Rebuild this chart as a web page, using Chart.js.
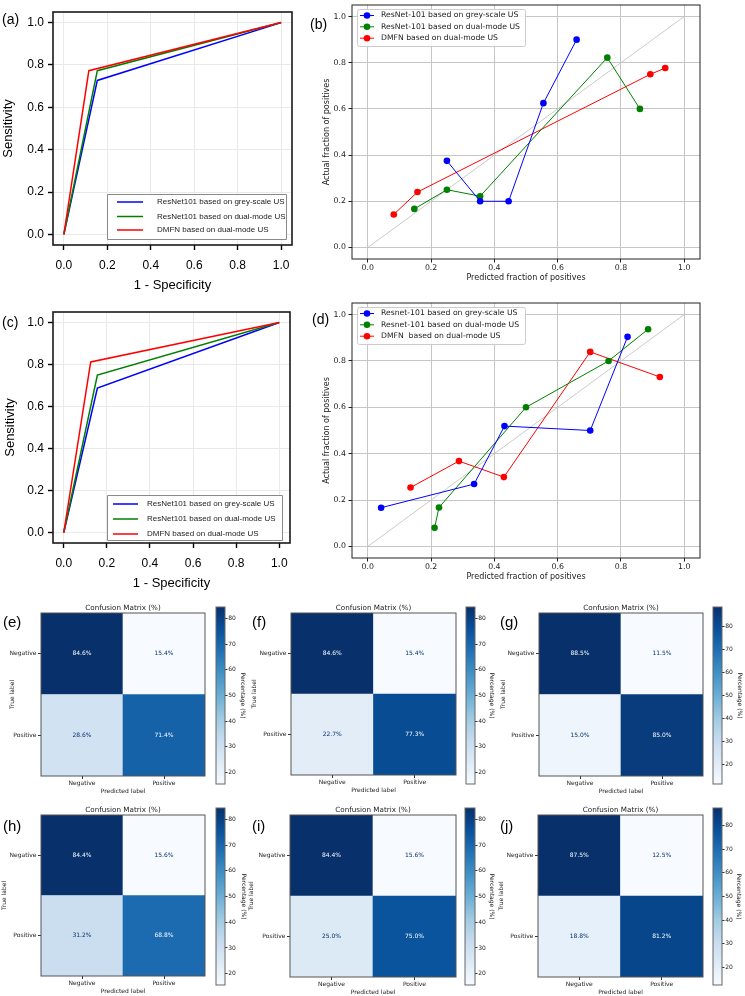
<!DOCTYPE html>
<html>
<head>
<meta charset="utf-8">
<title>ROC, calibration and confusion matrices</title>
<script src="https://cdn.jsdelivr.net/npm/chart.js@4.4.1/dist/chart.umd.min.js"></script>
<style>
  body { margin: 0; background: #fff; }
  #fig { position: relative; width: 745px; height: 996px; overflow: hidden; background: #fff; }
  #fig canvas { position: absolute; }
  .tag { position: absolute; font-family: "Liberation Sans", Arial, sans-serif; line-height: 1; color: #000; white-space: nowrap; }
</style>
</head>
<body>
<div id="fig"></div>
<script>
// ---------- values ----------
const axisTicks = [0, 0.2, 0.4, 0.6, 0.8, 1.0];
const cbarTicks = [20, 30, 40, 50, 60, 70, 80];
const cmLabels = ['Negative', 'Positive'];

const rocLabels = ['ResNet101 based on grey-scale US', 'ResNet101 based on dual-mode US', 'DMFN based on dual-mode US'];
const calLabelsB = ['ResNet-101 based on grey-scale US', 'ResNet-101 based on dual-mode US', 'DMFN based on dual-mode US'];
const calLabelsD = ['Resnet-101 based on grey-scale US', 'Resnet-101 based on dual-mode US', 'DMFN  based on dual-mode US'];

// ROC curves: [1 - specificity, sensitivity]
const rocA_grey = [[0, 0], [0.154, 0.727], [1, 1]];
const rocA_dual = [[0, 0], [0.154, 0.773], [1, 1]];
const rocA_dmfn = [[0, 0], [0.115, 0.773], [1, 1]];
const rocC_grey = [[0, 0], [0.156, 0.688], [1, 1]];
const rocC_dual = [[0, 0], [0.156, 0.75], [1, 1]];
const rocC_dmfn = [[0, 0], [0.125, 0.812], [1, 1]];

// calibration curves: [predicted fraction, actual fraction]
const calB_grey = [[0.25, 0.375], [0.355, 0.2], [0.445, 0.2], [0.555, 0.625], [0.66, 0.9]];
const calB_dual = [[0.147, 0.167], [0.25, 0.25], [0.355, 0.222], [0.757, 0.822], [0.86, 0.6]];
const calB_dmfn = [[0.082, 0.143], [0.157, 0.24], [0.893, 0.75], [0.94, 0.777]];
const calD_grey = [[0.042, 0.167], [0.336, 0.269], [0.432, 0.519], [0.703, 0.5], [0.821, 0.904]];
const calD_dual = [[0.211, 0.08], [0.225, 0.168], [0.5, 0.6], [0.761, 0.8], [0.886, 0.937]];
const calD_dmfn = [[0.135, 0.254], [0.288, 0.368], [0.43, 0.299], [0.703, 0.839], [0.923, 0.731]];
const diagonal = [[0, 0], [1, 1]];

// confusion matrices (%), rows: true Negative, true Positive
const cmE = [[84.6, 15.4], [28.6, 71.4]];
const cmF = [[84.6, 15.4], [22.7, 77.3]];
const cmG = [[88.5, 11.5], [15.0, 85.0]];
const cmH = [[84.4, 15.6], [31.2, 68.8]];
const cmI = [[84.4, 15.6], [25.0, 75.0]];
const cmJ = [[87.5, 12.5], [18.8, 81.2]];

// ---------- styling ----------
const FONT_ROC = '"Liberation Sans", Arial, sans-serif';
const FONT_MPL = '"DejaVu Sans", sans-serif';
const lineColors = ['#0000ff', '#008000', '#ff0000'];
const bluesStops = ['#f7fbff', '#deebf7', '#c6dbef', '#9ecae1', '#6baed6', '#4292c6', '#2171b5', '#08519c', '#08306b'];

Chart.defaults.font.family = FONT_MPL;
Chart.defaults.color = '#222';

const fig = document.getElementById('fig');

function blues(t) {
  t = Math.max(0, Math.min(1, t));
  const p = t * 8, i = Math.min(7, Math.floor(p)), f = p - i;
  const a = bluesStops[i], b = bluesStops[i + 1];
  const ch = (s, k) => parseInt(s.substr(1 + 2 * k, 2), 16);
  const rgb = [0, 1, 2].map(k => Math.round(ch(a, k) + (ch(b, k) - ch(a, k)) * f));
  return `rgb(${rgb.join(',')})`;
}

const xy = pts => pts.map(p => ({ x: p[0], y: p[1] }));

function fixSize(px) {
  return s => {
    if (s.isHorizontal()) s.height = px; else s.width = px;
    s.paddingLeft = s.paddingRight = s.paddingTop = s.paddingBottom = 0;
  };
}

function fixedTicks(values) {
  return s => { s.ticks = values.map(v => ({ value: v })); };
}

function makeCanvas(area, ax, pad) {
  const L = area[0] - (ax.l || 0) - pad.left;
  const T = area[1] - (ax.t || 0) - pad.top;
  const R = area[2] + (ax.r || 0) + pad.right;
  const B = area[3] + (ax.b || 0) + pad.bottom;
  const c = document.createElement('canvas');
  c.width = R - L; c.height = B - T;
  c.style.left = L + 'px'; c.style.top = T + 'px';
  c.style.width = (R - L) + 'px'; c.style.height = (B - T) + 'px';
  fig.appendChild(c);
  return c;
}

// ---------- plugins ----------
const framePlugin = {
  id: 'frame',
  afterDatasetsDraw(chart, args, o) {
    if (!o.color) return;
    const { ctx, chartArea: a } = chart;
    ctx.save();
    ctx.strokeStyle = o.color;
    ctx.lineWidth = o.width;
    ctx.strokeRect(a.left, a.top, a.right - a.left, a.bottom - a.top);
    ctx.restore();
  }
};

const boxLegendPlugin = {
  id: 'boxLegend',
  afterDraw(chart, args, o) {
    if (!o.box) return;
    const { ctx, chartArea: a } = chart;
    const [bx, by, bw, bh] = o.box;
    const x0 = a.left + bx, y0 = a.top + by;
    ctx.save();
    ctx.beginPath();
    ctx.roundRect(x0 + 0.5, y0 + 0.5, bw, bh, o.radius);
    ctx.fillStyle = o.fill;
    ctx.fill();
    ctx.strokeStyle = o.edge;
    ctx.lineWidth = 1;
    ctx.stroke();
    ctx.font = o.font;
    ctx.textBaseline = 'middle';
    chart.data.datasets.filter(d => d.label).forEach((d, i) => {
      const y = y0 + o.rows[i];
      ctx.strokeStyle = d.borderColor;
      ctx.lineWidth = o.lineWidth;
      ctx.beginPath();
      ctx.moveTo(x0 + o.line[0], y);
      ctx.lineTo(x0 + o.line[1], y);
      ctx.stroke();
      if (o.marker) {
        ctx.fillStyle = d.borderColor;
        ctx.beginPath();
        ctx.arc(x0 + (o.line[0] + o.line[1]) / 2, y, o.marker, 0, Math.PI * 2);
        ctx.fill();
      }
      ctx.fillStyle = o.color;
      ctx.fillText(d.label, x0 + o.text, y);
    });
    ctx.restore();
  }
};

const cellTextPlugin = {
  id: 'cellText',
  afterDatasetsDraw(chart, args, o) {
    if (!o.font) return;
    const ctx = chart.ctx;
    ctx.save();
    ctx.font = o.font;
    ctx.textAlign = 'center';
    ctx.textBaseline = 'middle';
    chart.data.datasets.forEach((d, i) => {
      chart.getDatasetMeta(i).data.forEach((el, j) => {
        const p = el.getCenterPoint();
        ctx.fillStyle = d.textColor[j];
        ctx.fillText(d.values[j].toFixed(1) + '%', p.x, p.y);
      });
    });
    ctx.restore();
  }
};

Chart.register(framePlugin, boxLegendPlugin, cellTextPlugin);

const baseOptions = {
  responsive: false,
  maintainAspectRatio: false,
  animation: false,
  events: []
};

// ---------- ROC panels ----------
function rocChart(area, series, legendBox, yTitlePad) {
  const pad = { left: 0, top: 12, right: 8, bottom: 0 };
  const canvas = makeCanvas(area, { l: 53, b: 48 }, pad);
  const axis = (title, isX) => ({
    type: 'linear', min: -0.05, max: 1.05,
    afterBuildTicks: fixedTicks(axisTicks),
    afterFit: fixSize(isX ? 48 : 53),
    border: { display: false },
    grid: { color: '#e9e9e9', lineWidth: 1, tickColor: '#000', tickWidth: 1.4, tickLength: 5 },
    ticks: {
      color: '#000', font: { family: FONT_ROC, size: 12 }, padding: isX ? 8 : 4,
      maxRotation: 0, autoSkip: false, callback: v => v.toFixed(1)
    },
    title: {
      display: true, text: title, color: '#000', font: { family: FONT_ROC, size: 13 },
      padding: isX ? { top: 0, bottom: 0 } : { top: yTitlePad, bottom: 0 }
    }
  });
  new Chart(canvas, {
    type: 'scatter',
    data: {
      datasets: series.map((pts, k) => ({
        label: rocLabels[k], data: xy(pts), showLine: true,
        borderColor: lineColors[k], borderWidth: 1.5, pointRadius: 0, order: 2 - k
      }))
    },
    options: {
      ...baseOptions,
      layout: { padding: pad },
      scales: { x: axis('1 - Specificity', true), y: axis('Sensitivity', false) },
      plugins: {
        legend: { display: false }, tooltip: { enabled: false },
        frame: { color: '#1a1a1a', width: 1.6 },
        boxLegend: {
          box: legendBox.box, rows: legendBox.rows, line: legendBox.line, text: legendBox.text,
          radius: 0, fill: '#fff', edge: '#8a8a8a', lineWidth: 1.5, marker: 0,
          font: '8px ' + FONT_ROC, color: '#222'
        }
      }
    }
  });
}

rocChart([53, 12, 292, 245], [rocA_grey, rocA_dual, rocA_dmfn],
  { box: [54, 182, 179, 45], rows: [8, 22.5, 36], line: [10, 36], text: 50 }, 1);
rocChart([53, 312, 290, 543], [rocC_grey, rocC_dual, rocC_dmfn],
  { box: [54, 183, 175, 45], rows: [9, 24, 39], line: [6, 31], text: 40 }, 3);

// ---------- calibration panels ----------
function calChart(area, series, labels) {
  const pad = { left: 0, top: 5, right: 5, bottom: 0 };
  const canvas = makeCanvas(area, { l: 34, b: 25 }, pad);
  const axis = (title, isX) => ({
    type: 'linear', min: -0.05, max: 1.05,
    afterBuildTicks: fixedTicks(axisTicks),
    afterFit: fixSize(isX ? 25 : 34),
    border: { display: false },
    grid: { color: '#c6c6c6', lineWidth: 1, tickColor: '#222', tickWidth: 1, tickLength: 3.5 },
    ticks: {
      color: '#222', font: { size: 7.8 }, padding: isX ? 1 : 2.5,
      maxRotation: 0, autoSkip: false, callback: v => v.toFixed(1)
    },
    title: {
      display: true, text: title, color: '#222', font: { size: 8 },
      padding: isX ? { top: 0, bottom: 1.2 } : { top: 4.2, bottom: 0 }
    }
  });
  const datasets = series.map((pts, k) => ({
    label: labels[k], data: xy(pts), showLine: true,
    borderColor: lineColors[k], borderWidth: 1, pointRadius: 3.3,
    pointBackgroundColor: lineColors[k], pointBorderWidth: 0, order: k
  }));
  datasets.push({
    data: xy(diagonal), showLine: true, borderColor: '#bdbdbd', borderWidth: 0.8,
    pointRadius: 0, order: 10
  });
  new Chart(canvas, {
    type: 'scatter',
    data: { datasets },
    options: {
      ...baseOptions,
      layout: { padding: pad },
      scales: { x: axis('Predicted fraction of positives', true), y: axis('Actual fraction of positives', false) },
      plugins: {
        legend: { display: false }, tooltip: { enabled: false },
        frame: { color: '#222', width: 1 },
        boxLegend: {
          box: [5, 4, 168, 37], rows: [6.5, 17.8, 29.2], line: [3, 17], text: 24,
          radius: 2, fill: 'rgba(255,255,255,0.85)', edge: '#cccccc', lineWidth: 1, marker: 3.3,
          font: '7.7px ' + FONT_MPL, color: '#222'
        }
      }
    }
  });
}

calChart([352, 5, 700, 259], [calB_grey, calB_dual, calB_dmfn], calLabelsB);
calChart([352, 303, 700, 558], [calD_grey, calD_dual, calD_dmfn], calLabelsD);

// ---------- confusion matrices + colour bars ----------
function matrixChart(area, wl, cells) {
  const pad = { left: 0, top: 0, right: 2, bottom: 0 };
  const canvas = makeCanvas(area, { l: wl, t: 9, b: 20 }, pad);
  const all = cells.flat();
  const vmin = Math.min(...all), vmax = Math.max(...all);
  const mid = (vmin + vmax) / 2;
  // dataset 0 = bottom row (true Positive), dataset 1 = top row (true Negative)
  const datasets = [1, 0].map(r => ({
    data: cmLabels.map(() => 1),
    values: cells[r],
    backgroundColor: cells[r].map(v => blues((v - vmin) / (vmax - vmin))),
    textColor: cells[r].map(v => v > mid ? '#f7fbff' : '#08306b'),
    barPercentage: 1, categoryPercentage: 1, borderWidth: 0
  }));
  new Chart(canvas, {
    type: 'bar',
    data: { labels: cmLabels, datasets },
    options: {
      ...baseOptions,
      layout: { padding: pad },
      scales: {
        x: {
          stacked: true, afterFit: fixSize(20), border: { display: false },
          grid: { offset: false, drawOnChartArea: false, tickColor: '#333', tickLength: 3 },
          ticks: { font: { size: 6 }, color: '#222', padding: 0.4, maxRotation: 0 },
          title: { display: true, text: 'Predicted label', font: { size: 6 }, color: '#222', padding: { top: 0, bottom: 0.7 } }
        },
        y: {
          stacked: true, min: 0, max: 2, afterFit: fixSize(wl), border: { display: false },
          afterBuildTicks: fixedTicks([0.5, 1.5]),
          grid: { drawOnChartArea: false, tickColor: '#333', tickLength: 3 },
          ticks: { font: { size: 6 }, color: '#222', padding: 1.5, callback: v => v > 1 ? cmLabels[0] : cmLabels[1] },
          title: { display: true, text: 'True label', font: { size: 6 }, color: '#222', padding: { top: 0, bottom: 0 } }
        }
      },
      plugins: {
        legend: { display: false }, tooltip: { enabled: false },
        title: {
          display: true, text: 'Confusion Matrix (%)', fullSize: false, color: '#222',
          font: { size: 7.2, weight: 'normal' }, padding: { top: 0, bottom: 0.36 }
        },
        frame: { color: '#555', width: 1 },
        cellText: { font: '6px ' + FONT_MPL }
      }
    }
  });
  return [vmin, vmax];
}

function colorBar(area, wr, range) {
  const pad = { left: 1, top: 1, right: 0, bottom: 1 };
  const canvas = makeCanvas(area, { r: wr }, pad);
  new Chart(canvas, {
    type: 'bar',
    data: {
      labels: [''],
      datasets: [{
        data: [range],
        barPercentage: 1, categoryPercentage: 1, borderWidth: 0,
        backgroundColor: c => {
          const a = c.chart.chartArea;
          if (!a) return bluesStops[4];
          const g = c.chart.ctx.createLinearGradient(0, a.bottom, 0, a.top);
          bluesStops.forEach((col, i) => g.addColorStop(i / 8, col));
          return g;
        }
      }]
    },
    options: {
      ...baseOptions,
      layout: { padding: pad },
      scales: {
        x: { display: false },
        y: {
          position: 'right', min: range[0], max: range[1],
          afterBuildTicks: fixedTicks(cbarTicks), afterFit: fixSize(wr),
          border: { display: false },
          grid: { drawOnChartArea: false, tickColor: '#333', tickLength: 2.5 },
          ticks: { font: { size: 6 }, color: '#222', padding: 0.8, callback: v => String(v) },
          title: { display: true, text: 'Percentage (%)', font: { size: 6 }, color: '#222', padding: { top: 0.5, bottom: 0 } }
        }
      },
      plugins: {
        legend: { display: false }, tooltip: { enabled: false },
        frame: { color: '#666', width: 1 }
      }
    }
  });
}

colorBar([216, 607, 225, 784], 22, matrixChart([41, 613, 205, 776], 32, cmE));
colorBar([466, 607, 475, 784], 21, matrixChart([291, 613, 456, 775], 40, cmF));
colorBar([713, 607, 722, 784], 22, matrixChart([539, 613, 703, 776], 39, cmG));
colorBar([216, 808, 225, 985], 23, matrixChart([41, 815, 205, 976], 40, cmH));
colorBar([465, 808, 475, 985], 21, matrixChart([290, 815, 456, 977], 42, cmI));
colorBar([713, 808, 722, 985], 21, matrixChart([538, 815, 703, 977], 40, cmJ));

// ---------- panel letters ----------
const panelTags = [
  ['(a)', 2, 12, 14], ['(b)', 310, 17, 14], ['(c)', 2, 315, 14], ['(d)', 312, 312, 14],
  ['(e)', 3, 614, 15], ['(f)', 252, 614, 15], ['(g)', 500, 614, 15],
  ['(h)', 3, 818, 15], ['(i)', 252, 818, 15], ['(j)', 500, 818, 15]
];
panelTags.forEach(([txt, x, y, size]) => {
  const d = document.createElement('div');
  d.className = 'tag';
  d.textContent = txt;
  d.style.left = x + 'px';
  d.style.top = y + 'px';
  d.style.fontSize = size + 'px';
  fig.appendChild(d);
});
</script>
</body>
</html>
